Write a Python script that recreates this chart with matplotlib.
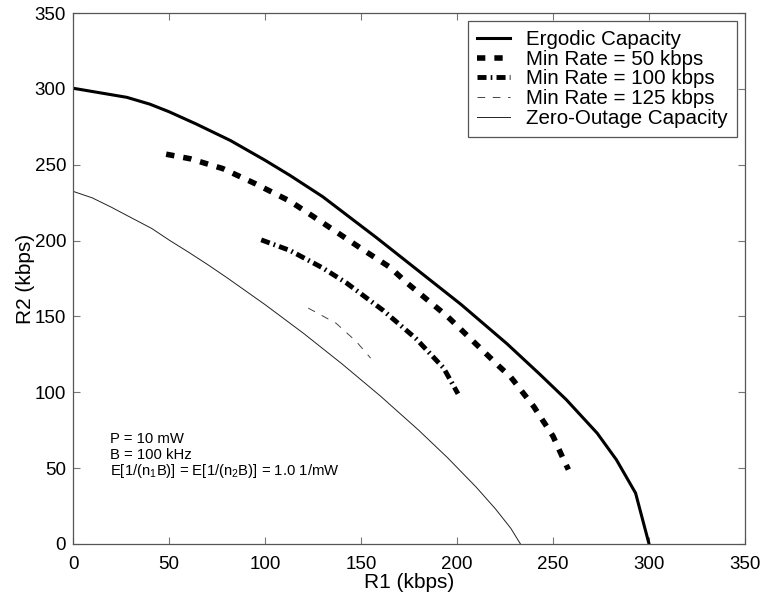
import numpy as np
import matplotlib
matplotlib.use("Agg")
import matplotlib.pyplot as plt

plt.rcParams['font.family'] = ['Liberation Sans', 'DejaVu Sans']
plt.rcParams['mathtext.fontset'] = 'custom'
plt.rcParams['mathtext.rm'] = 'Liberation Sans'
plt.rcParams['mathtext.default'] = 'regular'
plt.rcParams['lines.scale_dashes'] = False

# curves (R1, R2 in kbps)
erg_r1 = [0, 28, 40, 50, 64, 82, 100, 113, 130, 158, 180, 202, 226, 243, 257, 273, 283, 293, 300]
erg_r2 = [300.5, 294.5, 290, 285, 277, 266, 253, 243, 229, 202, 180, 158, 132, 112, 95, 73, 55.5, 33.5, 0]

mr50_r1 = [48.5, 61, 78, 95, 113, 128, 151, 165, 174, 195, 222, 228, 240, 250, 255, 258]
mr50_r2 = [257, 254, 247.5, 237.5, 226, 213.5, 194, 182.5, 172, 150, 117, 110, 90.5, 71, 57, 49]

mr100_r1 = [98, 113, 130, 142.5, 161.5, 178.5, 193, 200.5]
mr100_r2 = [200.5, 193.5, 182, 172, 154, 135.5, 116, 99]

mr125_r1 = [122.5, 137, 147.5, 155]
mr125_r2 = [155.5, 145.5, 133.5, 122.5]

zo_r1 = [0, 10, 20, 30, 41, 50, 60, 70, 80, 100, 120, 140, 160, 180, 195, 210, 220, 228, 233]
zo_r2 = [232.5, 228.2, 222, 215.3, 208, 200.4, 192.5, 184.3, 175.7, 157.8, 138.9, 118.8,
         97.6, 75, 56.9, 37.4, 23.1, 10.3, 0]

labels = ['Ergodic Capacity', 'Min Rate = 50 kbps', 'Min Rate = 100 kbps',
          'Min Rate = 125 kbps', 'Zero-Outage Capacity']
ticks = [0, 50, 100, 150, 200, 250, 300, 350]

fig = plt.figure(figsize=(7.61, 5.99), dpi=100)
ax = fig.add_axes([0.096, 0.092, 0.883, 0.886])

ax.plot(erg_r1, erg_r2, color='black', lw=2.2, label=labels[0])
ax.plot(mr50_r1, mr50_r2, color='black', lw=4, dashes=(6, 6.5), label=labels[1])
ax.plot(mr100_r1, mr100_r2, color='black', lw=3.5, dashes=(6.5, 3, 1.2, 3), label=labels[2])
ax.plot(mr125_r1, mr125_r2, color='#444444', lw=0.7, dashes=(5.5, 5.5), label=labels[3])
ax.plot(zo_r1, zo_r2, color='#222222', lw=0.7, label=labels[4])

ax.set_xlim(0, 350)
ax.set_ylim(0, 350)
ax.set_xticks(ticks)
ax.set_yticks(ticks)
ax.tick_params(direction='in', length=5, width=0.8, color='#777777',
               top=True, right=True, labelsize=13.5, pad=5)
ax.tick_params(axis='x', pad=8.5)
for s in ax.spines.values():
    s.set_color('#555555')
    s.set_linewidth(0.9)
ax.set_xlabel('R1 (kbps)', fontsize=15, labelpad=0)
ax.set_ylabel('R2 (kbps)', fontsize=15, labelpad=0)

ax.text(19, 66.4, 'P = 10 mW', fontsize=10.7)
ax.text(19, 55.9, 'B = 100 kHz', fontsize=10.7)
ax.text(19, 45.6, r'E[1/(n$_1$B)] = E[1/(n$_2$B)] = 1.0 1/mW', fontsize=10.7)

leg = ax.legend(loc='upper right', fontsize=14.8, handlelength=1.6, handletextpad=0.8,
                labelspacing=0.03, borderpad=0.45, borderaxespad=0.38,
                fancybox=False, framealpha=1)
leg.get_frame().set_edgecolor('#555555')
leg.get_frame().set_linewidth(0.9)

fig.savefig('out.png', dpi=100)
